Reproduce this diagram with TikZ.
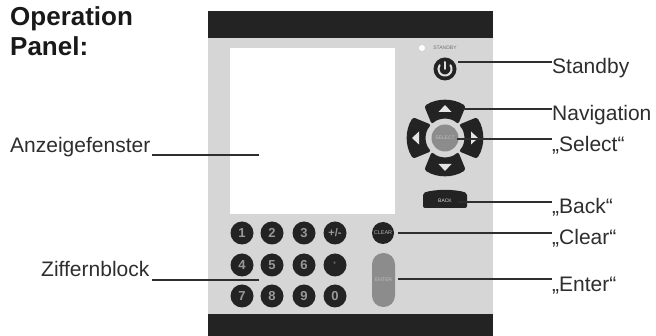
\documentclass[tikz,border=0pt]{standalone}
\usepackage{fontspec}
\setmainfont{Liberation Sans}
\definecolor{ink}{HTML}{2E2E2E}
\definecolor{panelgrey}{HTML}{D6D6D6}
\definecolor{keyblack}{HTML}{232323}
\definecolor{keygrey}{HTML}{8C8C8C}
\tikzset{
  lab/.style={anchor=base west,inner sep=0pt,text=ink,font=\fontsize{21}{21}\selectfont},
  title/.style={anchor=base west,inner sep=0pt,text=black!90,font=\fontsize{26}{26}\selectfont\bfseries},
  lead/.style={draw=ink,line width=1.5pt},
  numkey/.style={circle,fill=keyblack,minimum size=23pt,inner sep=0pt,text=black!40,font=\fontsize{13}{13}\selectfont\bfseries},
  tiny/.style={inner sep=0pt,font=\fontsize{5}{5}\selectfont}
}
\begin{document}
\begin{tikzpicture}[x=1pt,y=-1pt]
\useasboundingbox (0,0) rectangle (656,336);
\fill[white] (0,0) rectangle (656,336);
% panel
\fill[panelgrey] (208,38) rectangle (493,314);
\fill[keyblack] (208,11) rectangle (493,38);
\fill[keyblack] (208,314) rectangle (493,336);
\fill[white] (230,48) rectangle (395,214);
% standby
\node[circle,fill=white,minimum size=6pt,inner sep=0pt] (led) at (422,48) {};
\node[tiny,text=black!55] (stbytext) at (445,48) {STANDBY};
\node[circle,fill=keyblack,minimum size=23pt,inner sep=0pt] (stby) at (445,69) {};
\draw[white!88!black,line width=2pt,line cap=round] (445,62) -- (445,69);
\draw[white!88!black,line width=2pt,line cap=round] (450.4,65.2) arc[start angle=-35,end angle=215,radius=6.6];
% navigation
\foreach \a in {0,90,180,270}{
\begin{scope}[shift={(445,138)},rotate=\a]
  \fill[keyblack,rounded corners=2.5pt] (-33:38) arc[start angle=-33,end angle=33,radius=38]
     -- (44:19) arc[start angle=44,end angle=-44,radius=19] -- cycle;
  \fill[white!90!black] (33,0) -- (26,-6.5) -- (26,6.5) -- cycle;
\end{scope}}
\node[circle,fill=keygrey,minimum size=27pt,inner sep=0pt,text=black!25,font=\fontsize{5}{5}\selectfont] (sel) at (445,138) {SELECT};
% back
\fill[keyblack,rounded corners=2pt] (423,208) -- (423,193) .. controls (435,189) and (455,189) .. (467,193) -- (467,208) -- cycle;
\node[tiny,text=white!85!black] (back) at (445,201) {BACK};
% keypad
\foreach \n/\t/\x/\y in {k1/1/242/233,k2/2/272/233,k3/3/304/233,k4/4/242/265,k5/5/272/265,k6/6/304/265,k7/7/242/296,k8/8/272/296,k9/9/304/296,k0/0/335/296}{
  \node[numkey] (\n) at (\x,\y) {\t};
}
\node[numkey,font=\fontsize{11}{11}\selectfont\bfseries] (kpm) at (335,233) {+/-};
\node[numkey,text=black!60] (kdot) at (335,265) {·};
\node[circle,fill=keyblack,minimum size=22pt,inner sep=0pt,text=black!30,font=\fontsize{5.5}{5.5}\selectfont] (clear) at (383,233) {CLEAR};
\node[fill=keygrey,minimum width=23pt,minimum height=54pt,rounded corners=11.4pt,inner sep=0pt,text=black!25,font=\fontsize{5}{5}\selectfont] (enter) at (383.5,280) {ENTER};
% labels
\node[title] (t1) at (10,26) {Operation};
\node[title] (t2) at (10,56) {Panel:};
\node[lab] (lanz) at (10,153) {Anzeigefenster};
\node[lab] (lzif) at (41,277) {Ziffernblock};
\node[lab] (lstb) at (552,74) {Standby};
\node[lab] (lnav) at (552,121) {Navigation};
\node[lab] (lsel) at (552,152) {„Select“};
\node[lab] (lbak) at (552,214) {„Back“};
\node[lab] (lclr) at (552,245) {„Clear“};
\node[lab] (lent) at (552,292) {„Enter“};
% leader ends
\coordinate (a1) at (152,155); \coordinate (a2) at (259,155);
\coordinate (z1) at (152,280); \coordinate (z2) at (259,280);
\coordinate (s1) at (458,62); \coordinate (s2) at (552,62);
\coordinate (n1) at (463,109); \coordinate (n2) at (552,109);
\coordinate (e1) at (457,139); \coordinate (e2) at (552,139);
\coordinate (b1) at (458,202); \coordinate (b2) at (552,202);
\coordinate (c1) at (398,233); \coordinate (c2) at (552,233);
\coordinate (x1) at (398,279); \coordinate (x2) at (552,279);
\draw[lead] (a1) -- (a2);
\draw[lead] (z1) -- (z2);
\draw[lead] (s1) -- (s2);
\draw[lead] (n1) -- (n2);
\draw[lead] (e1) -- (e2);
\draw[lead] (b1) -- (b2);
\draw[lead] (c1) -- (c2);
\draw[lead] (x1) -- (x2);
\end{tikzpicture}
\end{document}
